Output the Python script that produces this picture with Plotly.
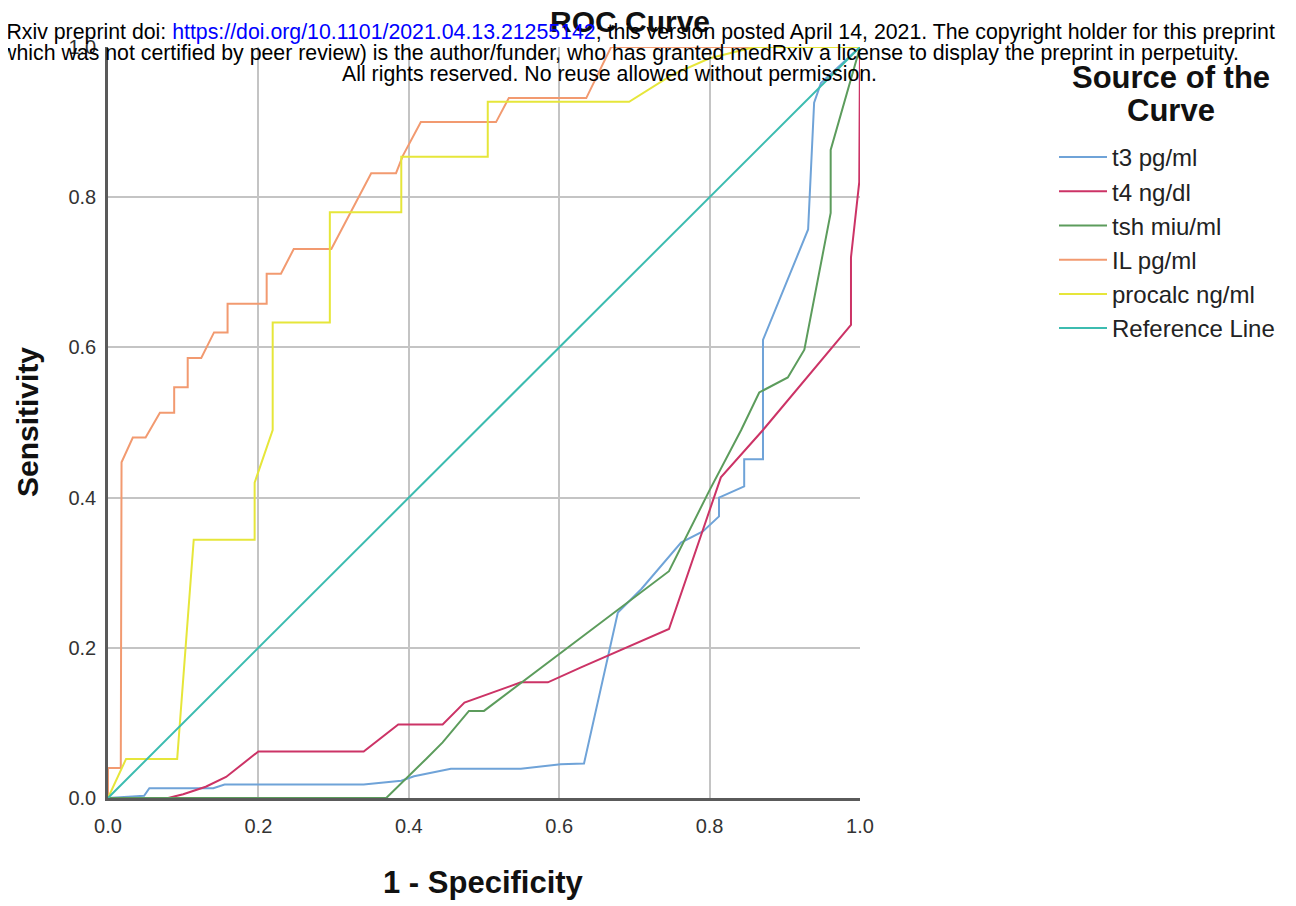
import plotly.graph_objects as go

# ---- data ----
t3_x = [0, 0.048, 0.055, 0.14, 0.155, 0.34, 0.39, 0.407, 0.456, 0.549, 0.602, 0.633, 0.678, 0.709,
        0.762, 0.791, 0.8125, 0.8125, 0.846, 0.846, 0.871, 0.871, 0.931, 0.939, 0.948, 1.0]
t3_y = [0, 0.003, 0.013, 0.013, 0.018, 0.018, 0.023, 0.029, 0.039, 0.039, 0.045, 0.046, 0.247, 0.278,
        0.34, 0.355, 0.375, 0.40, 0.415, 0.451, 0.451, 0.61, 0.757, 0.926, 0.952, 1.0]

t4_x = [0, 0.08, 0.10, 0.13, 0.157, 0.2, 0.34, 0.386, 0.445, 0.474, 0.549, 0.585, 0.629, 0.746,
        0.815, 0.871, 0.988, 0.988, 0.999, 1.0]
t4_y = [0, 0, 0.005, 0.015, 0.028, 0.062, 0.062, 0.098, 0.098, 0.127, 0.154, 0.154, 0.174, 0.225,
        0.427, 0.49, 0.63, 0.72, 0.82, 1.0]

tsh_x = [0, 0.37, 0.423, 0.445, 0.48, 0.5, 0.746, 0.80, 0.842, 0.866, 0.904, 0.926, 0.961, 0.961, 0.999, 1.0]
tsh_y = [0, 0, 0.052, 0.074, 0.116, 0.116, 0.302, 0.41, 0.49, 0.54, 0.56, 0.597, 0.779, 0.863, 0.996, 1.0]

il_x = [0, 0, 0.017, 0.018, 0.033, 0.05, 0.069, 0.088, 0.088, 0.106, 0.106, 0.124, 0.141, 0.159, 0.159,
        0.211, 0.211, 0.230, 0.247, 0.297, 0.350, 0.383, 0.392, 0.416, 0.516, 0.533, 0.636, 0.669, 1.0]
il_y = [0, 0.04, 0.04, 0.447, 0.48, 0.48, 0.513, 0.513, 0.547, 0.547, 0.586, 0.586, 0.62, 0.62, 0.658,
        0.658, 0.698, 0.698, 0.731, 0.731, 0.832, 0.832, 0.855, 0.90, 0.90, 0.932, 0.932, 1.0, 1.0]

pct_x = [0, 0.024, 0.092, 0.114, 0.195, 0.195, 0.219, 0.219, 0.295, 0.295, 0.39, 0.39, 0.505, 0.505,
         0.693, 0.75, 0.80, 0.86, 1.0]
pct_y = [0, 0.052, 0.052, 0.344, 0.344, 0.42, 0.49, 0.633, 0.633, 0.78, 0.78, 0.854, 0.854, 0.927,
         0.927, 0.963, 0.985, 1.0, 1.0]

ref_x = [0, 1]
ref_y = [0, 1]

series_names = ["t3 pg/ml", "t4 ng/dl", "tsh miu/ml", "IL pg/ml", "procalc ng/ml", "Reference Line"]
series_x = [t3_x, t4_x, tsh_x, il_x, pct_x, ref_x]
series_y = [t3_y, t4_y, tsh_y, il_y, pct_y, ref_y]
colors = ["#6fa3d8", "#cc3366", "#5c9c5c", "#f29a70", "#e6e63a", "#3cbcb0"]

tick_vals = [0.0, 0.2, 0.4, 0.6, 0.8, 1.0]
tick_text = ["0.0", "0.2", "0.4", "0.6", "0.8", "1.0"]

# ---- layout geometry (pixels, in the reference picture's frame) ----
OFF = 8                      # page body margin of the html page
W, H = 1296, 906 - OFF
L, R, T, B = 108, 860, 47, 798


def px(xp):
    return (xp - L) / (R - L)


def py(yp):
    return (B - yp) / (B - T)


FONT = "Liberation Sans, Arial, sans-serif"

fig = go.Figure()
for name, xs, ys, c in zip(series_names, series_x, series_y, colors):
    fig.add_trace(go.Scatter(x=xs, y=ys, mode="lines", name=name,
                             line=dict(color=c, width=2)))

axis_common = dict(
    range=[0, 1], tickvals=tick_vals, ticktext=tick_text,
    showgrid=True, gridcolor="#c4c4c4", gridwidth=2,
    zeroline=False, showline=True, linecolor="#5a5a5a", linewidth=2.5,
    ticks="", tickfont=dict(family=FONT, size=20, color="#333333"),
    fixedrange=True,
)

fig.update_layout(
    width=W, height=H, autosize=False,
    margin=dict(l=L - OFF, r=W - (R - OFF), t=T - OFF, b=H - (B - OFF), pad=0),
    paper_bgcolor="white", plot_bgcolor="white",
    xaxis=dict(**axis_common, ticklabelstandoff=8),
    yaxis=dict(**axis_common, ticklabelstandoff=5),
    showlegend=True,
    legend=dict(
        x=px(1054), y=py(135), xanchor="left", yanchor="top",
        font=dict(family=FONT, size=24, color="#222222"),
        itemwidth=48,
        bgcolor="rgba(0,0,0,0)", borderwidth=0, tracegroupgap=0,
    ),
)

annotations = [
    dict(text="<b>ROC Curve</b>", x=px(630), y=py(21), font=dict(family=FONT, size=30, color="#111111")),
    dict(text="<b>Sensitivity</b>", x=px(28), y=py(422), textangle=-90,
         font=dict(family=FONT, size=30, color="#111111")),
    dict(text="<b>1 - Specificity</b>", x=px(483), y=py(882),
         font=dict(family=FONT, size=31, color="#111111")),
    dict(text="<b>Source of the</b>", x=px(1171), y=py(77), font=dict(family=FONT, size=31, color="#111111")),
    dict(text="<b>Curve</b>", x=px(1171), y=py(110), font=dict(family=FONT, size=31, color="#111111")),
    dict(text="medRxiv preprint doi: <span style='color:#0000ff'>https://doi.org/10.1101/2021.04.13.21255142</span>; "
              "this version posted April 14, 2021. The copyright holder for this preprint",
         x=px(620), y=py(32), font=dict(family=FONT, size=21.3, color="#000000")),
    dict(text="(which was not certified by peer review) is the author/funder, who has granted medRxiv a license "
              "to display the preprint in perpetuity.",
         x=px(616), y=py(53), font=dict(family=FONT, size=21.3, color="#000000")),
    dict(text="All rights reserved. No reuse allowed without permission.",
         x=px(609), y=py(74), font=dict(family=FONT, size=21.3, color="#000000")),
]
for a in annotations:
    a.setdefault("xanchor", "center")
    a.update(xref="paper", yref="paper", yanchor="middle", showarrow=False)
fig.update_layout(annotations=annotations)

fig.write_html("out.html")
